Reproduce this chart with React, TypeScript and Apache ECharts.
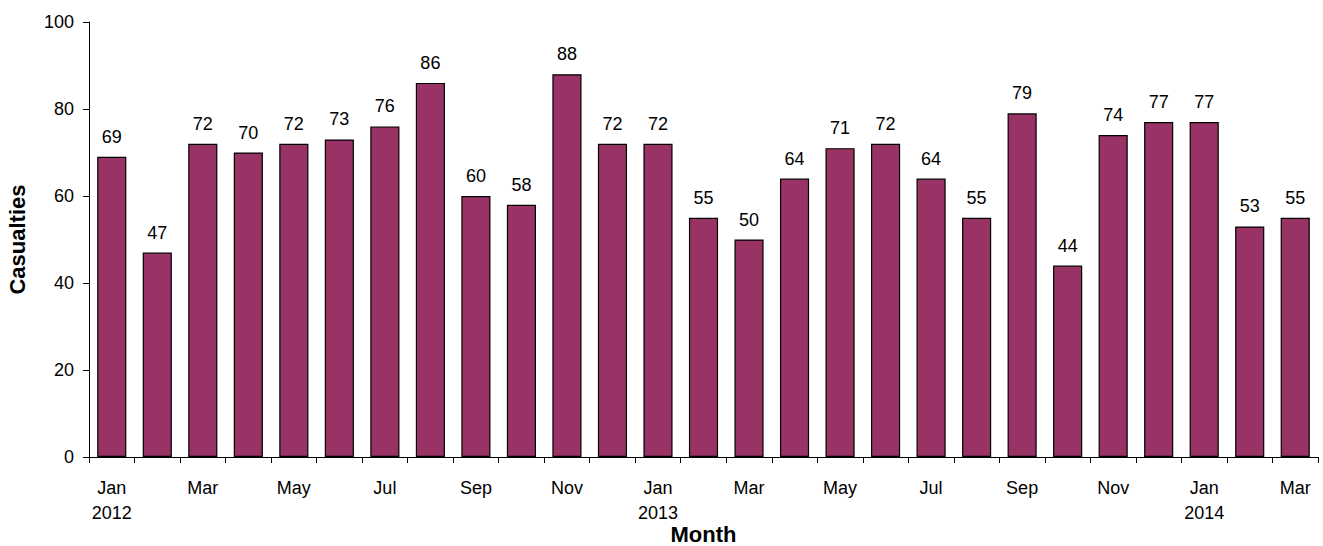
import React, { useEffect, useRef } from "react";
import * as echarts from "echarts";

// Monthly casualties, Jan 2012 – Mar 2014
const months = [
  "Jan\n2012", "Feb", "Mar", "Apr", "May", "Jun", "Jul", "Aug", "Sep", "Oct", "Nov", "Dec",
  "Jan\n2013", "Feb", "Mar", "Apr", "May", "Jun", "Jul", "Aug", "Sep", "Oct", "Nov", "Dec",
  "Jan\n2014", "Feb", "Mar",
];
const casualties = [
  69, 47, 72, 70, 72, 73, 76, 86, 60, 58, 88, 72,
  72, 55, 50, 64, 71, 72, 64, 55, 79, 44, 74, 77,
  77, 53, 55,
];
const yMin = 0;
const yMax = 100;
const yStep = 20;

const FONT = "'Liberation Sans', Arial, sans-serif";

export default function App() {
  const ref = useRef<HTMLDivElement>(null);

  useEffect(() => {
    if (!ref.current) return;
    const chart = echarts.init(ref.current, undefined, { renderer: "svg" });
    chart.setOption({
      animation: false,
      backgroundColor: "#ffffff",
      textStyle: { fontFamily: FONT },
      grid: {
        left: 89,
        right: 5,
        top: 22,
        bottom: 89,
        containLabel: false,
        outerBoundsMode: "none",
      },
      xAxis: {
        type: "category",
        data: months,
        name: "Month",
        nameLocation: "middle",
        nameGap: 66,
        nameMoveOverlap: false,
        nameTextStyle: { fontFamily: FONT, fontSize: 22, fontWeight: "bold", color: "#000" },
        axisLine: { lineStyle: { color: "#000", width: 1 } },
        axisTick: { show: true, interval: 0, length: 6, lineStyle: { color: "#000" } },
        axisLabel: {
          interval: 1,
          margin: 18,
          fontFamily: FONT,
          fontSize: 18,
          color: "#000",
          lineHeight: 25,
        },
      },
      yAxis: {
        type: "value",
        min: yMin,
        max: yMax,
        interval: yStep,
        name: "Casualties",
        nameLocation: "middle",
        nameGap: 61,
        nameRotate: 90,
        nameMoveOverlap: false,
        nameTextStyle: { fontFamily: FONT, fontSize: 22, fontWeight: "bold", color: "#000" },
        axisLine: { show: true, lineStyle: { color: "#000", width: 1 } },
        axisTick: { show: true, length: 6, lineStyle: { color: "#000" } },
        axisLabel: { margin: 15, fontFamily: FONT, fontSize: 18, color: "#000" },
        splitLine: { show: false },
      },
      series: [
        {
          type: "bar",
          data: casualties,
          barCategoryGap: "36%",
          itemStyle: { color: "#993366", borderColor: "#000", borderWidth: 1.2 },
          label: {
            show: true,
            position: "top",
            distance: 11,
            fontFamily: FONT,
            fontSize: 18,
            color: "#000",
          },
        },
      ],
    });
    return () => chart.dispose();
  }, []);

  return (
    <div
      ref={ref}
      style={{ position: "absolute", left: 0, top: 0, width: 1323, height: 546 }}
    />
  );
}
